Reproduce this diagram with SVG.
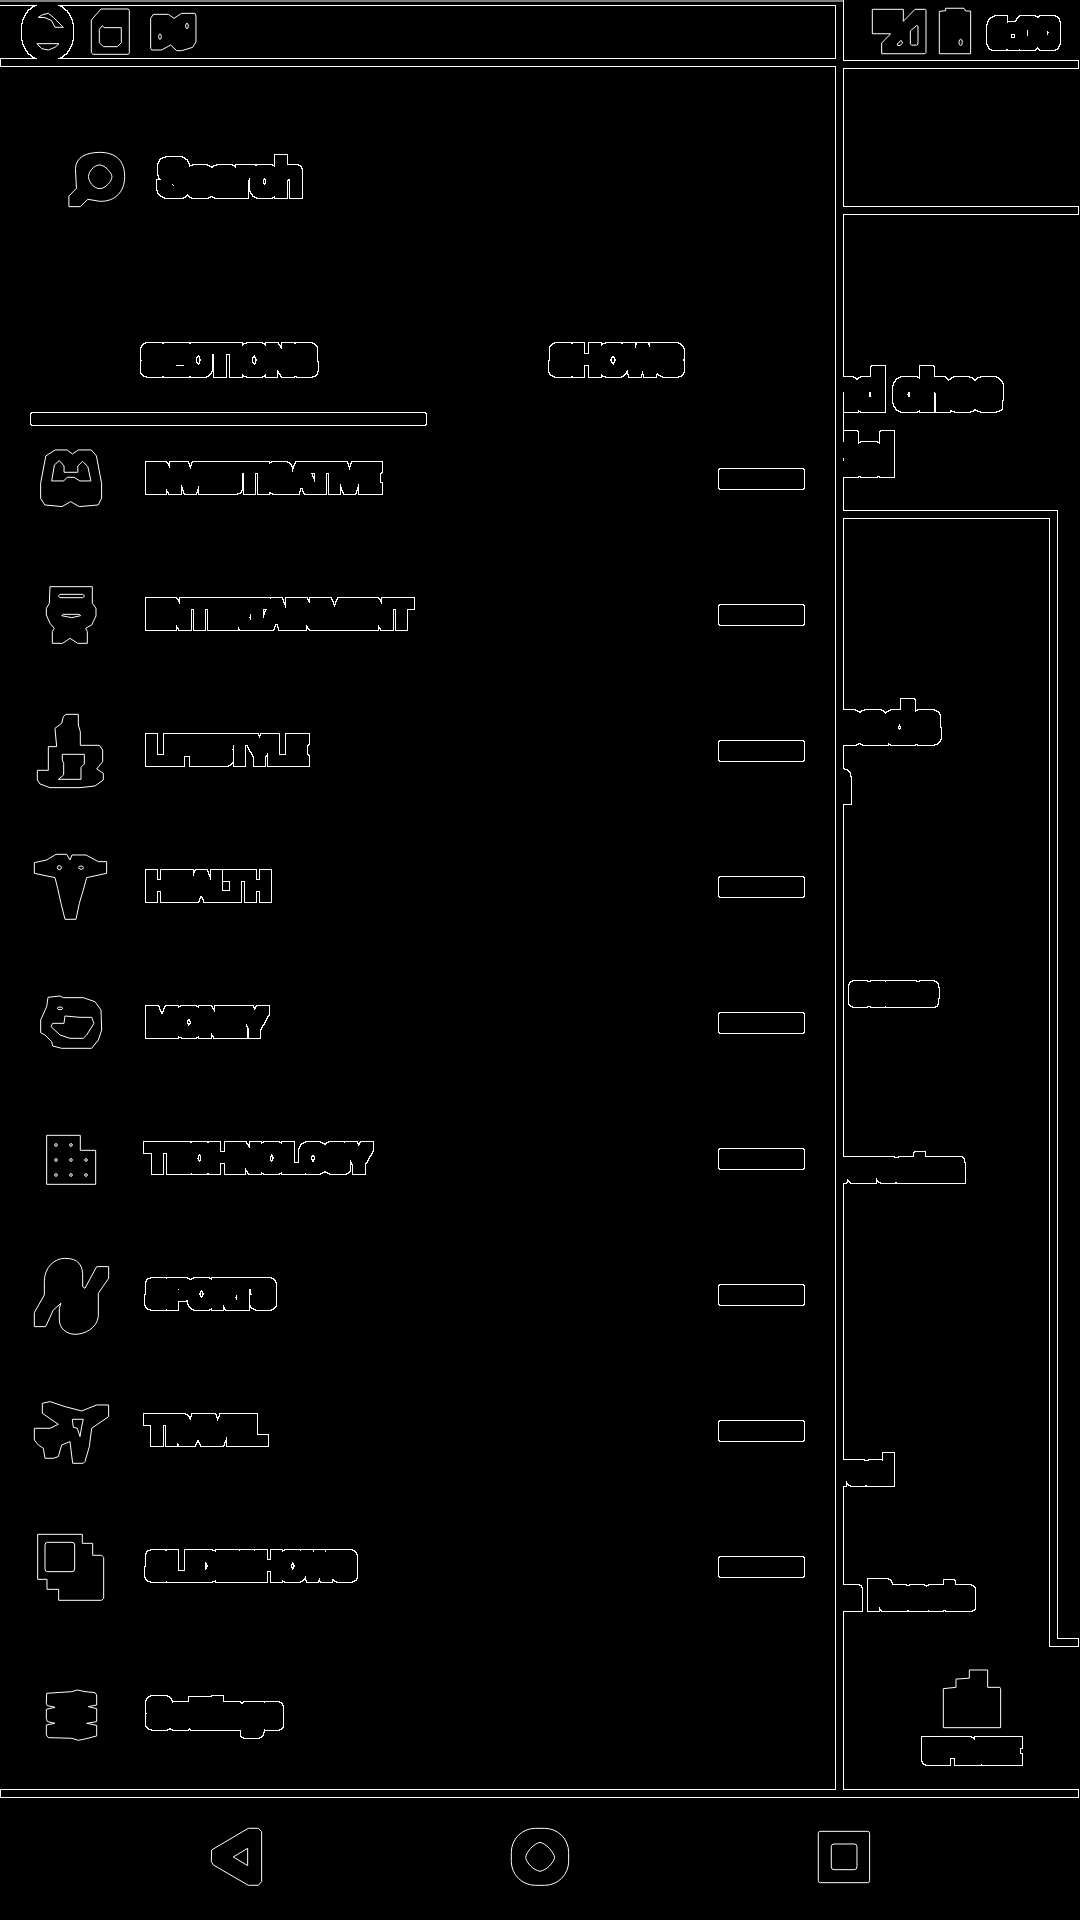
<svg xmlns="http://www.w3.org/2000/svg" width="1080" height="1920" viewBox="0 0 1080 1920">
<style>
.o{fill:none;stroke:#fff;stroke-width:1;vector-effect:non-scaling-stroke;stroke-linejoin:round}
text{font-family:Roboto,"Liberation Sans",sans-serif;fill:#fff}
.row{font-size:33px}
.head{font-size:36px}
.big{font-size:50px;font-weight:500;letter-spacing:-.7px}
.mid{font-size:34px}
.r{text-anchor:end}
.s{fill:#fff}
</style>
<defs>
<filter id="edge" filterUnits="userSpaceOnUse" x="0" y="0" width="1080" height="1920" color-interpolation-filters="sRGB">
<feComponentTransfer in="SourceAlpha" result="a"><feFuncA type="discrete" tableValues="0 1"/></feComponentTransfer>
<feMorphology in="a" operator="dilate" radius="3" result="d"/>
<feMorphology in="d" operator="dilate" radius="1" result="d2"/>
<feComposite in="d2" in2="d" operator="out" result="ring"/>
<feFlood flood-color="#fff"/>
<feComposite in2="ring" operator="in"/>
</filter>
<filter id="grow" filterUnits="userSpaceOnUse" x="0" y="0" width="1080" height="1920" color-interpolation-filters="sRGB">
<feMorphology operator="dilate" radius="1"/>
</filter>
<clipPath id="panel"><rect x="840" y="0" width="240" height="1920"/></clipPath>
</defs>
<rect width="1080" height="1920" fill="#000"/>
<path id="top-edge" class="o" d="M0,1H843"/>
<g id="outlined" filter="url(#edge)">
<g id="separators" class="s">
<rect x="-10" y="-10" width="850" height="12"/>
<rect x="839" y="-10" width="1" height="1803"/>
<rect x="4" y="62" width="836" height="1"/>
<rect x="840" y="64" width="235.500" height="1"/>
<rect x="840" y="210" width="235.500" height="1"/>
<rect x="840" y="514" width="214" height="1"/>
<rect x="1053" y="514" width="1" height="1129"/>
<rect x="1053" y="1642" width="22.500" height="1"/>
<rect x="4" y="1793" width="1071.500" height="1"/>
<rect x="34" y="416" width="389" height="6" rx="2"/>
<rect x="722" y="472" width="79" height="14" rx="2"/>
<rect x="722" y="608" width="79" height="14" rx="2"/>
<rect x="722" y="744" width="79" height="14" rx="2"/>
<rect x="722" y="880" width="79" height="14" rx="2"/>
<rect x="722" y="1016" width="79" height="14" rx="2"/>
<rect x="722" y="1152" width="79" height="14" rx="2"/>
<rect x="722" y="1288" width="79" height="14" rx="2"/>
<rect x="722" y="1424" width="79" height="14" rx="2"/>
<rect x="722" y="1560" width="79" height="14" rx="2"/>
<ellipse cx="47.500" cy="32" rx="22.500" ry="25"/>
</g>
<g id="labels" filter="url(#grow)">
<text x="1058" y="46" class="head r">6:00</text>
<text x="159.500" y="194" style="font-size:46px" textLength="142" lengthAdjust="spacingAndGlyphs">Search</text>
<text x="143" y="373" class="head" textLength="172" lengthAdjust="spacingAndGlyphs">SECTIONS</text>
<text x="551.500" y="373" class="head" textLength="129.500" lengthAdjust="spacingAndGlyphs">SHOWS</text>
<text x="147" y="490.400" class="row" textLength="232" lengthAdjust="spacingAndGlyphs">INVESTIGATIVE</text>
<text x="147" y="626.400" class="row" textLength="264" lengthAdjust="spacingAndGlyphs">ENTERTAINMENT</text>
<text x="147" y="762.400" class="row" textLength="159" lengthAdjust="spacingAndGlyphs">LIFESTYLE</text>
<text x="147" y="898.400" class="row" textLength="123" lengthAdjust="spacingAndGlyphs">HEALTH</text>
<text x="147" y="1034.400" class="row" textLength="118" lengthAdjust="spacingAndGlyphs">MONEY</text>
<text x="147.300" y="1170.400" class="row" textLength="222" lengthAdjust="spacingAndGlyphs">TECHNOLOGY</text>
<text x="147.800" y="1306.400" class="row" textLength="125.500" lengthAdjust="spacingAndGlyphs">SPORTS</text>
<text x="147.300" y="1442.400" class="row" textLength="117.500" lengthAdjust="spacingAndGlyphs">TRAVEL</text>
<text x="147.800" y="1578.400" class="row" textLength="206.500" lengthAdjust="spacingAndGlyphs">SLIDESHOWS</text>
<text x="148" y="1726" class="head" textLength="133" lengthAdjust="spacingAndGlyphs">Settings</text>
<text x="924.500" y="1761" style="font-size:28px;font-weight:700" textLength="93.500" lengthAdjust="spacingAndGlyphs">UPDATE</text>
</g>
<g id="panel-text" filter="url(#grow)" clip-path="url(#panel)">
<text x="1000" y="408" class="big r">and chee</text>
<text x="893" y="473" class="big r">dsl</text>
<text x="938" y="741" class="big r">reads</text>
<text x="849" y="800" class="big r">a</text>
<text x="851" y="1003" class="mid">some</text>
<text x="962.700" y="1179" class="mid r">overeaten</text>
<text x="893" y="1481.600" class="mid r">real</text>
<text x="973" y="1607" class="mid r">on Reacts</text>
</g>
</g>
<g id="status-left-icons">
<g transform="scale(.3333)">
<path class="o" d="M115,52L128,44L145,40L160,52L190,82H165L155,62L135,53Z"/>
<path class="o" d="M111,131H177L165,142L145,150L125,146Z"/>
<path class="o" d="M274,60L303,27H385L388,32V158L385,163H279L274,158Z"/>
<path class="o" d="M298,88L307,77L312,83H364V128L352,140H310L298,128Z"/>
<path class="o" d="M452,55L460,43H505L522,55L545,40H585L588,48V125L578,142L545,152H530L512,135L485,150H455L452,145Z"/>
<ellipse class="o" cx="561" cy="78" rx="4" ry="8"/>
<ellipse class="o" cx="480" cy="110" rx="4" ry="8"/>
</g>
</g>
<g id="status-right-icons" transform="translate(800,0) scale(.3333,.3444)">
<path class="o" d="M217,27H310V62L345,27H376L378,30V153L375,156H245V125L272,98H217Z"/>
<path class="o" d="M331,90L350,74L354,76V128L350,131H335L331,128Z"/>
<path class="o" d="M292,128L303,117L308,125L300,132L293,132Z"/>
<path class="o" d="M418,33L437,31V24H492L497,32H512V156H418Z"/>
<ellipse class="o" cx="482" cy="123" rx="5" ry="9"/>
</g>
<g id="icon-search" transform="scale(.3444,.3333)">
<path class="o" d="M200,620V588L222,565L219,505C222,470 250,458 290,457C340,458 362,485 362,530C362,575 335,605 290,604L255,598L233,620Z"/>
<path class="o" d="M290,495C305,495 325,520 325,530C325,545 305,566 290,566C272,566 257,545 257,530C257,515 272,495 290,495Z"/>
</g>
<g id="icon-investigative" transform="scale(.3444,.3333)">
<path class="o" d="M160,1350H195L210,1362L228,1350H265L280,1368L295,1450V1495L285,1515L230,1520L205,1505L180,1520L130,1515L118,1495V1450L133,1368Z"/>
<path class="o" d="M150,1443L158,1395L172,1382L186,1398V1417H226V1398L240,1384L255,1400L264,1443H232L215,1432H195L185,1443Z"/>
</g>
<g id="icons-a" transform="translate(0,560) scale(.3333)">
<path class="o" d="M150,80H277V130L288,145V168L275,195L257,205L262,215V250H233L210,235L188,250H157V215L163,205L150,190L139,165V145L148,130Z"/>
<path class="o" d="M175,108L180,103H248L254,108L248,113H180Z"/>
<path class="o" d="M185,167L190,163H238L242,167L215,173Z"/>
<path class="o" d="M190,470L198,463H235V495L241,515V556H298L308,570V605L290,627L310,640V660L285,678L240,683H150L120,672L112,660V631H145V560H170L165,505L185,490Z"/>
<path class="o" d="M187,583H253V612L243,622V658H175L191,645V610L187,600Z"/>
<path class="o" d="M103,908L140,900L168,883H200L210,900L216,885H258L295,905H320V940L260,953L250,990L238,1030L228,1078H195L183,1030L173,985L165,953L103,940Z"/>
<circle class="o" cx="178" cy="923" r="6"/>
<ellipse class="o" cx="243" cy="923" rx="7" ry="5"/>
</g>
<g id="icons-b" transform="translate(0,980) scale(.3333)">
<path class="o" d="M144,52L180,48L190,53H250L285,65L303,90L305,150L295,180L275,205H185L158,198L155,185L135,165L122,158V120L140,80Z"/>
<ellipse class="o" cx="180" cy="85" rx="8" ry="4"/>
<path class="o" d="M195,108L240,112H275L282,130L260,165L250,175H210L180,165L153,140L158,130H192Z"/>
<path class="o" d="M140,466H241V511H287V613H140Z"/>
<circle class="o" cx="168" cy="495" r="4"/><circle class="o" cx="213" cy="495" r="4"/>
<circle class="o" cx="168" cy="540" r="4"/><circle class="o" cx="213" cy="540" r="4"/><circle class="o" cx="258" cy="540" r="4"/>
<circle class="o" cx="168" cy="585" r="4"/><circle class="o" cx="213" cy="585" r="4"/><circle class="o" cx="258" cy="585" r="4"/>
<path class="o" d="M133,905C133,860 165,835 195,835C235,835 250,855 248,895V920L255,925L290,860H326V895L295,940V1010C290,1045 255,1063 225,1063C200,1063 178,1045 178,1020V985L183,970L160,990L137,1040H103V998L133,945Z"/>
<path class="o" d="M127,1270L150,1265L195,1280L245,1293L290,1275H326V1310L275,1345L268,1400L255,1445L250,1450H218L210,1385L185,1395L175,1430L160,1435H135L130,1405L115,1395L103,1380V1345H150L175,1333L127,1300Z"/>
<path class="o" d="M217,1318H250L245,1340L240,1370L232,1345L220,1342Z"/>
</g>
<g id="icons-c" transform="translate(0,1440) scale(.3333)">
<path class="o" d="M113,283H247V310H278V346H305L311,352V475L305,481H176V448H141V418H113Z"/>
<rect class="o" x="135" y="307" width="89" height="88" rx="8"/>
<path class="o" d="M140,760L215,755L232,750L255,755L285,758L290,765V795L265,800L290,806V845L260,850L290,856V888L255,897L235,901L215,895L145,893L139,885V855L165,850L142,845L139,835V808L165,802L142,797L139,790Z"/>
<path class="o" d="M635,1230L745,1165H775L785,1175V1325L775,1336H745L640,1275L634,1265Z"/>
<path class="o" d="M700,1251L743,1225V1277Z"/>
</g>
<g id="nav-icons" transform="translate(440,1780) scale(.3333)">
<rect class="o" x="214" y="145" width="172" height="171" rx="72"/>
<path class="o" d="M300,187C320,192 340,215 344,232C340,250 320,270 300,274C280,270 260,250 257,232C260,215 280,192 300,187Z"/>
<rect class="o" x="1135" y="154" width="154" height="154" rx="6"/>
<rect class="o" x="1174" y="192" width="77" height="77" rx="8"/>
</g>
<g id="icon-update" transform="translate(800,1140) scale(.3333,.4337)">
<path class="o" d="M430,1265L468,1262V1243L508,1241V1222H563V1262H600L602,1265V1355H430Z"/>
</g>
</svg>
